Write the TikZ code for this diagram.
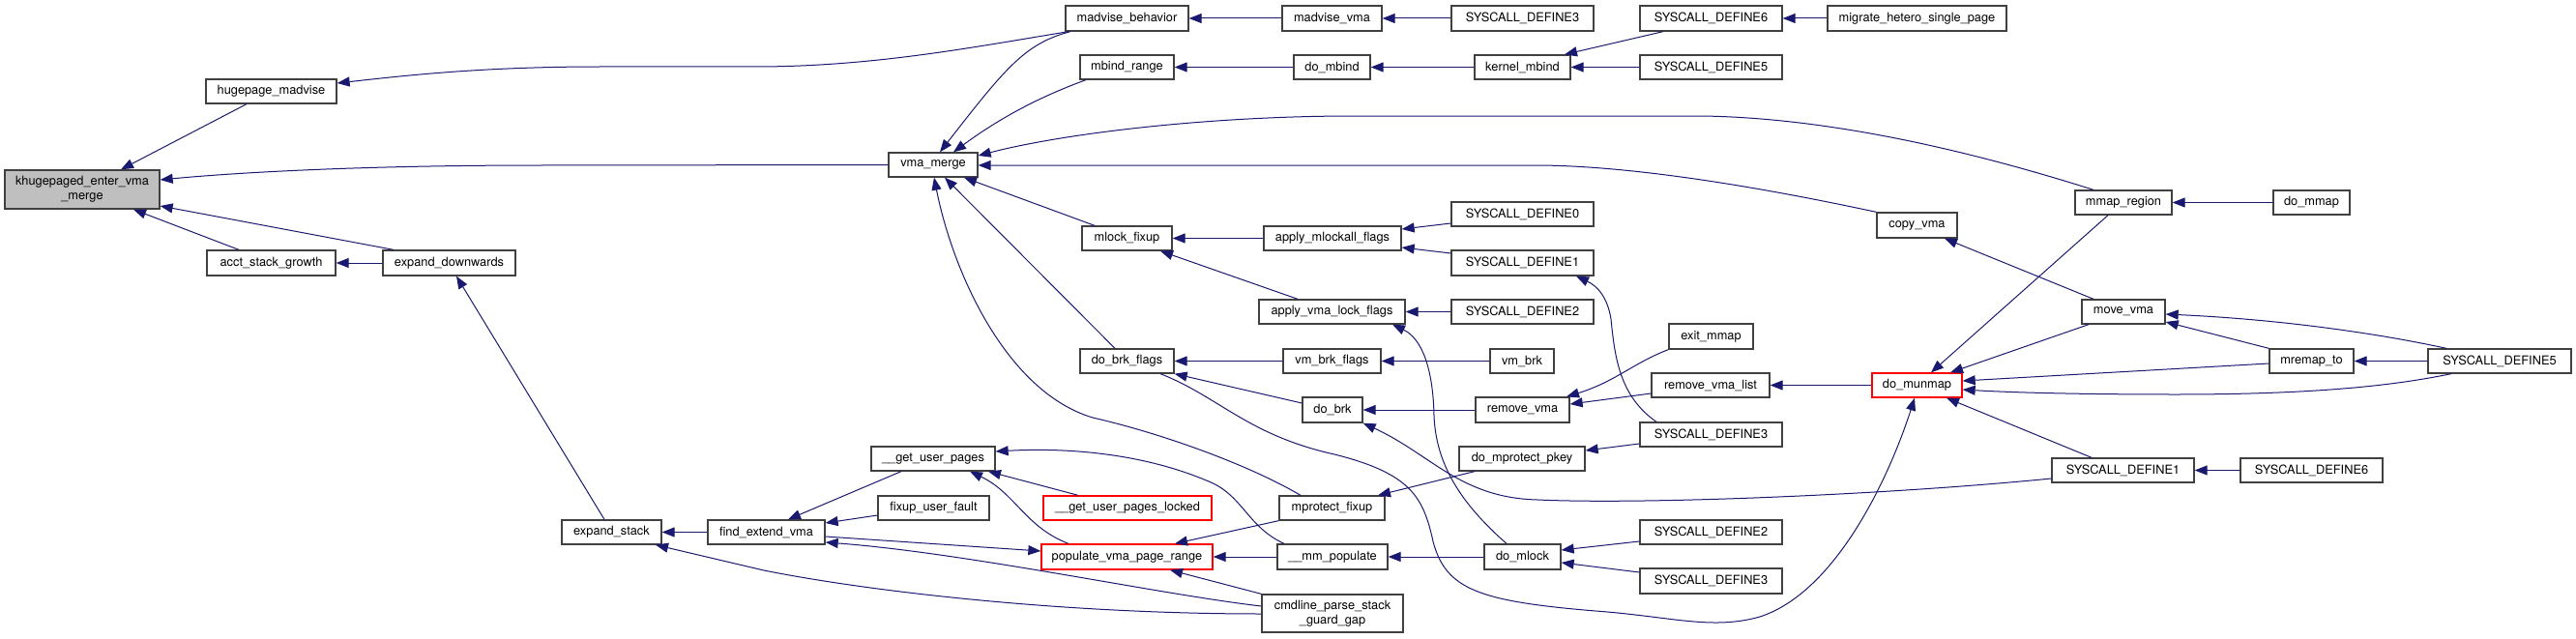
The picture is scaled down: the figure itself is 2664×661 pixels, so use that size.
\documentclass[tikz,border=0pt]{standalone}
\usepackage{fontspec}
\setmainfont{TeX Gyre Heros}
\usetikzlibrary{arrows.meta}
\definecolor{edgec}{HTML}{191970}
\definecolor{boxc}{HTML}{404040}
\definecolor{redc}{HTML}{FF0000}
\definecolor{grayfill}{HTML}{BFBFBF}
\newcommand\bx[7][]{\node[box,#1,minimum width={#5-#3},minimum height={#6-#4}] (#2) at ({(#3+#5)/2},{(#4+#6)/2}) {#7};}
\begin{document}
\begin{tikzpicture}[x=1pt,y=-1pt,
 box/.style={draw=boxc,line width=1.3pt,fill=white,inner sep=0pt,font=\fontsize{12.8}{15}\selectfont,align=center},
 redbox/.style={draw=redc},
 grayb/.style={fill=grayfill},
 edge/.style={draw=edgec,line width=1pt,-{Triangle[length=13pt,width=10pt]}}]
\useasboundingbox[fill=white] (0,0) rectangle (2664,661);
% nodes
\bx[grayb]{khuge}{5}{176}{165}{216}{khugepaged\_enter\_vma\\\_merge}
\bx{hpm}{213}{82}{348}{107}{hugepage\_madvise}
\bx{acct}{214}{259}{347}{285}{acct\_stack\_growth}
\bx{expdown}{396}{259}{533}{285}{expand\_downwards}
\bx{expstack}{581}{538}{684}{563}{expand\_stack}
\bx{findext}{732}{538}{853}{563}{find\_extend\_vma}
\bx{madvbeh}{1102}{6}{1229}{32}{madvise\_behavior}
\bx{mbind}{1117}{57}{1214}{82}{mbind\_range}
\bx{vmamerge}{919}{158}{1011}{183}{vma\_merge}
\bx{mlockfix}{1119}{234}{1212}{259}{mlock\_fixup}
\bx{dobrkfl}{1117}{361}{1214}{386}{do\_brk\_flags}
\bx{gup}{901}{462}{1029}{487}{\_\_get\_user\_pages}
\bx{fixup}{908}{513}{1023}{538}{fixup\_user\_fault}
\bx[redbox]{gupl}{1079}{513}{1253}{538}{\_\_get\_user\_pages\_locked}
\bx[redbox]{popul}{1077}{563}{1254}{589}{populate\_vma\_page\_range}
\bx{cmdline}{1305}{615}{1451}{654}{cmdline\_parse\_stack\\\_guard\_gap}
\bx{madvvma}{1326}{6}{1429}{32}{madvise\_vma}
\bx{sd3a}{1501}{6}{1648}{32}{SYSCALL\_DEFINE3}
\bx{sd6a}{1696}{6}{1843}{32}{SYSCALL\_DEFINE6}
\bx{dombind}{1338}{57}{1417}{82}{do\_mbind}
\bx{kmbind}{1525}{57}{1624}{82}{kernel\_mbind}
\bx{sd5a}{1696}{57}{1843}{82}{SYSCALL\_DEFINE5}
\bx{applymla}{1307}{234}{1449}{259}{apply\_mlockall\_flags}
\bx{sd0}{1501}{209}{1648}{234}{SYSCALL\_DEFINE0}
\bx{sd1a}{1501}{259}{1648}{285}{SYSCALL\_DEFINE1}
\bx{applyvlf}{1302}{310}{1453}{335}{apply\_vma\_lock\_flags}
\bx{sd2a}{1501}{310}{1648}{335}{SYSCALL\_DEFINE2}
\bx{vmbrkfl}{1327}{361}{1428}{386}{vm\_brk\_flags}
\bx{vmbrk}{1541}{361}{1607}{386}{vm\_brk}
\bx{exitmmap}{1726}{335}{1813}{361}{exit\_mmap}
\bx{dobrk}{1347}{411}{1409}{437}{do\_brk}
\bx{remvma}{1526}{411}{1623}{437}{remove\_vma}
\bx{rvl}{1708}{386}{1830}{411}{remove\_vma\_list}
\bx{sd3b}{1696}{437}{1843}{462}{SYSCALL\_DEFINE3}
\bx{domprot}{1509}{462}{1639}{487}{do\_mprotect\_pkey}
\bx{mprotfix}{1323}{513}{1432}{538}{mprotect\_fixup}
\bx{mmpop}{1321}{563}{1435}{589}{\_\_mm\_populate}
\bx{domlock}{1535}{563}{1614}{589}{do\_mlock}
\bx{sd2b}{1696}{538}{1843}{563}{SYSCALL\_DEFINE2}
\bx{sd3c}{1696}{588}{1843}{614}{SYSCALL\_DEFINE3}
\bx{migrate}{1890}{6}{2075}{32}{migrate\_hetero\_single\_page}
\bx{mmapreg}{2146}{197}{2246}{222}{mmap\_region}
\bx{copyvma}{1941}{220}{2024}{246}{copy\_vma}
\bx{movevma}{2153}{310}{2239}{335}{move\_vma}
\bx[redbox]{domunmap}{1936}{386}{2029}{411}{do\_munmap}
\bx{sd1b}{2122}{474}{2269}{499}{SYSCALL\_DEFINE1}
\bx{domap}{2351}{197}{2430}{222}{do\_mmap}
\bx{mremap}{2347}{361}{2434}{386}{mremap\_to}
\bx{sd5b}{2511}{361}{2659}{386}{SYSCALL\_DEFINE5}
\bx{sd6b}{2317}{474}{2464}{499}{SYSCALL\_DEFINE6}
% edges
\draw[edge] (hpm.south -| 255,0) -- (khuge.north -| 125,0);
\draw[edge] (vmamerge.west) -- (560,171) .. controls (380,171) and (250,178) .. (khuge.east |- 0,186);
\draw[edge] (expdown.north -| 407,0) -- (khuge.east |- 0,213);
\draw[edge] (acct.north -| 247,0) -- (khuge.south -| 138,0);
\draw[edge] (madvbeh.south -| 1105,0) .. controls (1000,50) and (900,69) .. (780,69) -- (620,69) .. controls (500,69) and (420,78) .. (hpm.east |- 0,86);
\draw[edge] (expdown.west) -- (acct.east);
\draw[edge] (expstack.north -| 625,0) -- (expdown.south -| 472,0);
\draw[edge] (findext.west) -- (expstack.east);
\draw[edge] (cmdline.west |- 0,635) .. controls (1100,635) and (900,612) .. (790,590) -- (expstack.south -| 678,0);
\draw[edge] (cmdline.west |- 0,627) .. controls (1200,615) and (1000,572) .. (findext.east |- 0,561);
\draw[edge] (gup.south -| 932,0) -- (findext.north -| 815,0);
\draw[edge] (fixup.west |- 0,533) -- (findext.east |- 0,541);
\draw[edge] (findext.east |- 0,555) -- (popul.west |- 0,570);
\draw[edge] (popul.north -| 1105,0) .. controls (1060,545) and (1050,510) .. (gup.south -| 1003,0);
\draw[edge] (gupl.north -| 1115,0) -- (gup.south -| 1022,0);
\draw[edge] (mmpop.north -| 1328,0) .. controls (1290,545) and (1285,512) .. (1250,498) .. controls (1180,468) and (1100,463) .. (gup.east |- 0,467);
\draw[edge] (mmpop.west |- 0,576) -- (popul.east |- 0,576);
\draw[edge] (mprotfix.south west) -- (popul.north -| 1215,0);
\draw[edge] (cmdline.north west) -- (popul.south -| 1210,0);
\draw[edge] (mprotfix.north -| 1345,0) .. controls (1290,480) and (1200,448) .. (1130,432) .. controls (1040,405) and (985,280) .. (vmamerge.south -| 966,0);
\draw[edge] (dobrkfl.north -| 1153,0) -- (vmamerge.south -| 977,0);
\draw[edge] (mlockfix.north -| 1132,0) -- (vmamerge.south -| 997,0);
\draw[edge] (madvbeh.south -| 1107,0) .. controls (1060,45) and (1040,70) .. (vmamerge.north -| 972,0);
\draw[edge] (mbind.south -| 1123,0) .. controls (1070,102) and (1030,125) .. (vmamerge.north -| 986,0);
\draw[edge] (mmapreg.north -| 2165,0) .. controls (2050,160) and (1900,122) .. (1760,120) -- (1400,120) .. controls (1250,120) and (1100,138) .. (vmamerge.east |- 0,161);
\draw[edge] (copyvma.north west) .. controls (1850,200) and (1700,171) .. (1587,171) -- (vmamerge.east |- 0,171);
\draw[edge] (madvvma.west) -- (madvbeh.east);
\draw[edge] (sd3a.west) -- (madvvma.east);
\draw[edge] (dombind.west) -- (mbind.east);
\draw[edge] (kmbind.west) -- (dombind.east);
\draw[edge] (sd6a.south -| 1720,0) -- (kmbind.north -| 1618,0);
\draw[edge] (sd5a.west) -- (kmbind.east);
\draw[edge] (migrate.west) -- (sd6a.east);
\draw[edge] (applymla.west) -- (mlockfix.east);
\draw[edge] (applyvlf.north -| 1342,0) -- (mlockfix.south -| 1200,0);
\draw[edge] (sd0.west |- 0,231) -- (applymla.east |- 0,237);
\draw[edge] (sd1a.west |- 0,262) -- (applymla.east |- 0,256);
\draw[edge] (sd2a.west) -- (applyvlf.east);
\draw[edge] (vmbrk.west) -- (vmbrkfl.east);
\draw[edge] (vmbrkfl.west) -- (dobrkfl.east);
\draw[edge] (dobrk.west |- 0,417) -- (dobrkfl.south east);
\draw[edge] (dobrkfl.south -| 1200,0) .. controls (1260,410) and (1290,450) .. (1380,470) .. controls (1460,490) and (1472,515) .. (1482,560) .. controls (1495,610) and (1530,622) .. (1650,632) .. controls (1730,638) and (1770,652) .. (1820,638) .. controls (1900,612) and (1955,490) .. (domunmap.south -| 1980,0);
\draw[edge] (remvma.west) -- (dobrk.east);
\draw[edge] (sd1b.west |- 0,495) .. controls (1950,512) and (1700,522) .. (1590,517) .. controls (1510,515) and (1480,470) .. (dobrk.south east);
\draw[edge] (domlock.north -| 1558,0) .. controls (1510,520) and (1485,480) .. (1483,430) .. controls (1482,380) and (1470,350) .. (applyvlf.south -| 1440,0);
\draw[edge] (sd3b.north -| 1713,0) .. controls (1675,410) and (1670,370) .. (1666,330) .. controls (1662,305) and (1650,295) .. (sd1a.south -| 1630,0);
\draw[edge] (exitmmap.south west) .. controls (1690,375) and (1670,395) .. (remvma.north -| 1620,0);
\draw[edge] (rvl.west |- 0,407) -- (remvma.east |- 0,418);
\draw[edge] (domunmap.west) -- (rvl.east);
\draw[edge] (sd3b.west |- 0,459) -- (domprot.east |- 0,466);
\draw[edge] (domprot.south -| 1525,0) -- (mprotfix.north -| 1425,0);
\draw[edge] (domlock.west) -- (mmpop.east);
\draw[edge] (sd2b.west |- 0,560) -- (domlock.east |- 0,569);
\draw[edge] (sd3c.west |- 0,592) -- (domlock.east |- 0,582);
\draw[edge] (mmapreg.south -| 2180,0) -- (domunmap.north -| 1997,0);
\draw[edge] (movevma.south -| 2160,0) -- (domunmap.north -| 2017,0);
\draw[edge] (mremap.west |- 0,376) -- (domunmap.east |- 0,394);
\draw[edge] (sd5b.south -| 2535,0) .. controls (2480,398) and (2400,408) .. (2250,408) .. controls (2150,408) and (2080,406) .. (domunmap.east |- 0,403);
\draw[edge] (sd1b.north -| 2163,0) -- (domunmap.south -| 2013,0);
\draw[edge] (sd5b.north -| 2530,0) .. controls (2450,343) and (2350,330) .. (movevma.east |- 0,325);
\draw[edge] (mremap.north west) -- (movevma.east |- 0,333);
\draw[edge] (movevma.north -| 2165,0) -- (copyvma.south -| 2011,0);
\draw[edge] (sd5b.west) -- (mremap.east);
\draw[edge] (sd6b.west) -- (sd1b.east);
\draw[edge] (domap.west) -- (mmapreg.east);
\end{tikzpicture}
\end{document}
